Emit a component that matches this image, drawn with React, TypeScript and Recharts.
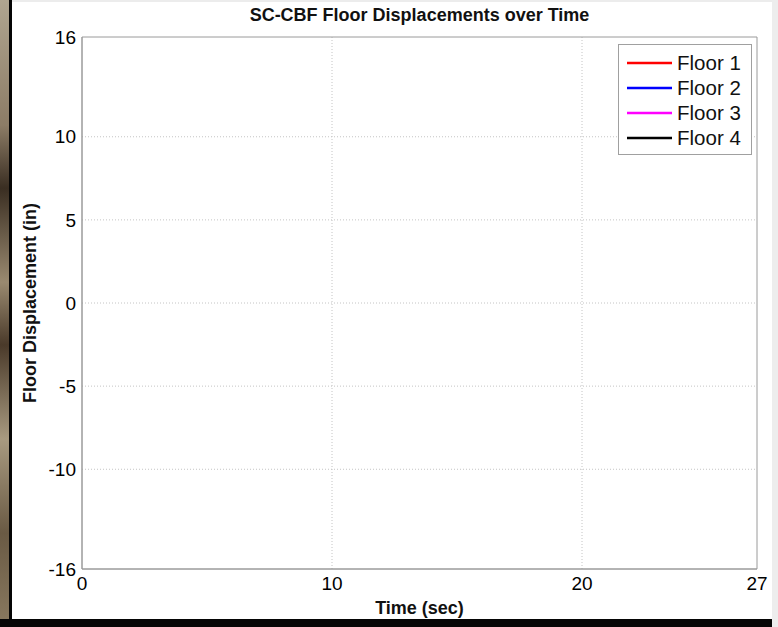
import { LineChart, Line, XAxis, YAxis, CartesianGrid, Legend } from "recharts";

const FONT = "'Liberation Sans', Arial, Helvetica, sans-serif";

// the capture is taken before any sample is plotted: time span only, no displacements yet
const timeSec = [0, 27];
const floor1: (number | null)[] = [null, null];
const floor2: (number | null)[] = [null, null];
const floor3: (number | null)[] = [null, null];
const floor4: (number | null)[] = [null, null];

const xTicks = [0, 10, 20, 27];
const yTicks = [-16, -10, -5, 0, 5, 10, 16];
const gridX = [10, 20];
const gridY = [-10, -5, 0, 5, 10];

const seriesKeys = ["floor1", "floor2", "floor3", "floor4"];
const seriesNames = ["Floor 1", "Floor 2", "Floor 3", "Floor 4"];
const seriesColors = ["#ff0000", "#0000ff", "#ff00ff", "#000000"];

const data = timeSec.map((t, i) => ({
  time: t,
  floor1: floor1[i],
  floor2: floor2[i],
  floor3: floor3[i],
  floor4: floor4[i],
}));

function MatlabLegend({ payload }: any) {
  return (
    <div
      style={{
        border: "1px solid #a0a0a0",
        background: "#fff",
        boxSizing: "border-box",
        width: "100%",
        height: "100%",
        padding: "5px 0 0 8px",
      }}
    >
      {(payload ?? []).map((p: any) => (
        <div
          key={p.value}
          style={{ display: "flex", alignItems: "center", height: 25 }}
        >
          <svg width={45} height={4} style={{ display: "block" }}>
            <line x1={0} x2={45} y1={2} y2={2} stroke={p.color} strokeWidth={2.5} />
          </svg>
          <span
            style={{
              marginLeft: 5,
              fontSize: 20.5,
              fontFamily: FONT,
              color: "#111",
              lineHeight: "25px",
            }}
          >
            {p.value}
          </span>
        </div>
      ))}
    </div>
  );
}

export default function App() {
  const tick = { fill: "#000", fontSize: 19, fontFamily: FONT };
  const labelStyle = { fill: "#111", fontSize: 18, fontWeight: "bold", fontFamily: FONT };
  return (
    <div
      style={{
        position: "absolute",
        left: 0,
        top: 0,
        width: 778,
        height: 627,
        background: "#fff",
        overflow: "hidden",
      }}
    >
      {/* frame around the screenshot */}
      <div
        style={{
          position: "absolute",
          left: 0,
          top: 0,
          width: 9,
          height: 627,
          background:
            "linear-gradient(#b0a590 0%, #8c7c66 20%, #3a2e22 30%, #9a8a70 45%, #4a3a2a 55%, #a89a80 70%, #6a5a44 85%, #8a7a60 100%)",
        }}
      />
      <div style={{ position: "absolute", left: 9, top: 0, width: 3, height: 627, background: "#050505" }} />
      <div style={{ position: "absolute", left: 12, top: 0, width: 760, height: 2, background: "#ececec" }} />
      <div style={{ position: "absolute", left: 772, top: 0, width: 6, height: 627, background: "#ededed" }} />
      <div style={{ position: "absolute", left: 0, top: 619, width: 772, height: 8, background: "#050505" }} />

      <div
        style={{
          position: "absolute",
          left: 82,
          top: 3,
          width: 675,
          textAlign: "center",
          fontFamily: FONT,
          fontWeight: "bold",
          fontSize: 18,
          lineHeight: "24px",
          color: "#111",
          zIndex: 2,
        }}
      >
        SC-CBF Floor Displacements over Time
      </div>

      <LineChart
        width={778}
        height={627}
        data={data}
        margin={{ top: 37, right: 21, bottom: 28, left: 22 }}
      >
        <CartesianGrid
          horizontalValues={gridY}
          verticalValues={gridX}
          stroke="#c4c4c4"
          strokeDasharray="1 2"
        />
        <CartesianGrid
          horizontalValues={[-16, 16]}
          verticalValues={[0, 27]}
          stroke="#9a9a9a"
        />
        <XAxis
          dataKey="time"
          type="number"
          domain={[0, 27]}
          ticks={xTicks}
          allowDataOverflow
          height={30}
          tick={tick}
          tickLine={false}
          tickSize={0}
          tickMargin={8}
          axisLine={{ stroke: "#9a9a9a" }}
          label={{
            value: "Time (sec)",
            position: "bottom",
            offset: 2,
            style: labelStyle,
          }}
        />
        <YAxis
          type="number"
          domain={[-16, 16]}
          ticks={yTicks}
          allowDataOverflow
          width={60}
          tick={tick}
          tickLine={false}
          tickSize={0}
          tickMargin={6}
          axisLine={{ stroke: "#9a9a9a" }}
          label={{
            value: "Floor Displacement (in)",
            angle: -90,
            position: "insideLeft",
            offset: 8,
            style: { ...labelStyle, textAnchor: "middle" },
          }}
        />
        <Legend
          layout="vertical"
          align="center"
          verticalAlign="middle"
          content={<MatlabLegend />}
          wrapperStyle={{ left: 618, top: 44, width: 134, height: 111 }}
        />
        {seriesKeys.map((k, i) => (
          <Line
            key={k}
            type="linear"
            dataKey={k}
            name={seriesNames[i]}
            stroke={seriesColors[i]}
            strokeWidth={2}
            dot={false}
            isAnimationActive={false}
          />
        ))}
      </LineChart>
    </div>
  );
}
